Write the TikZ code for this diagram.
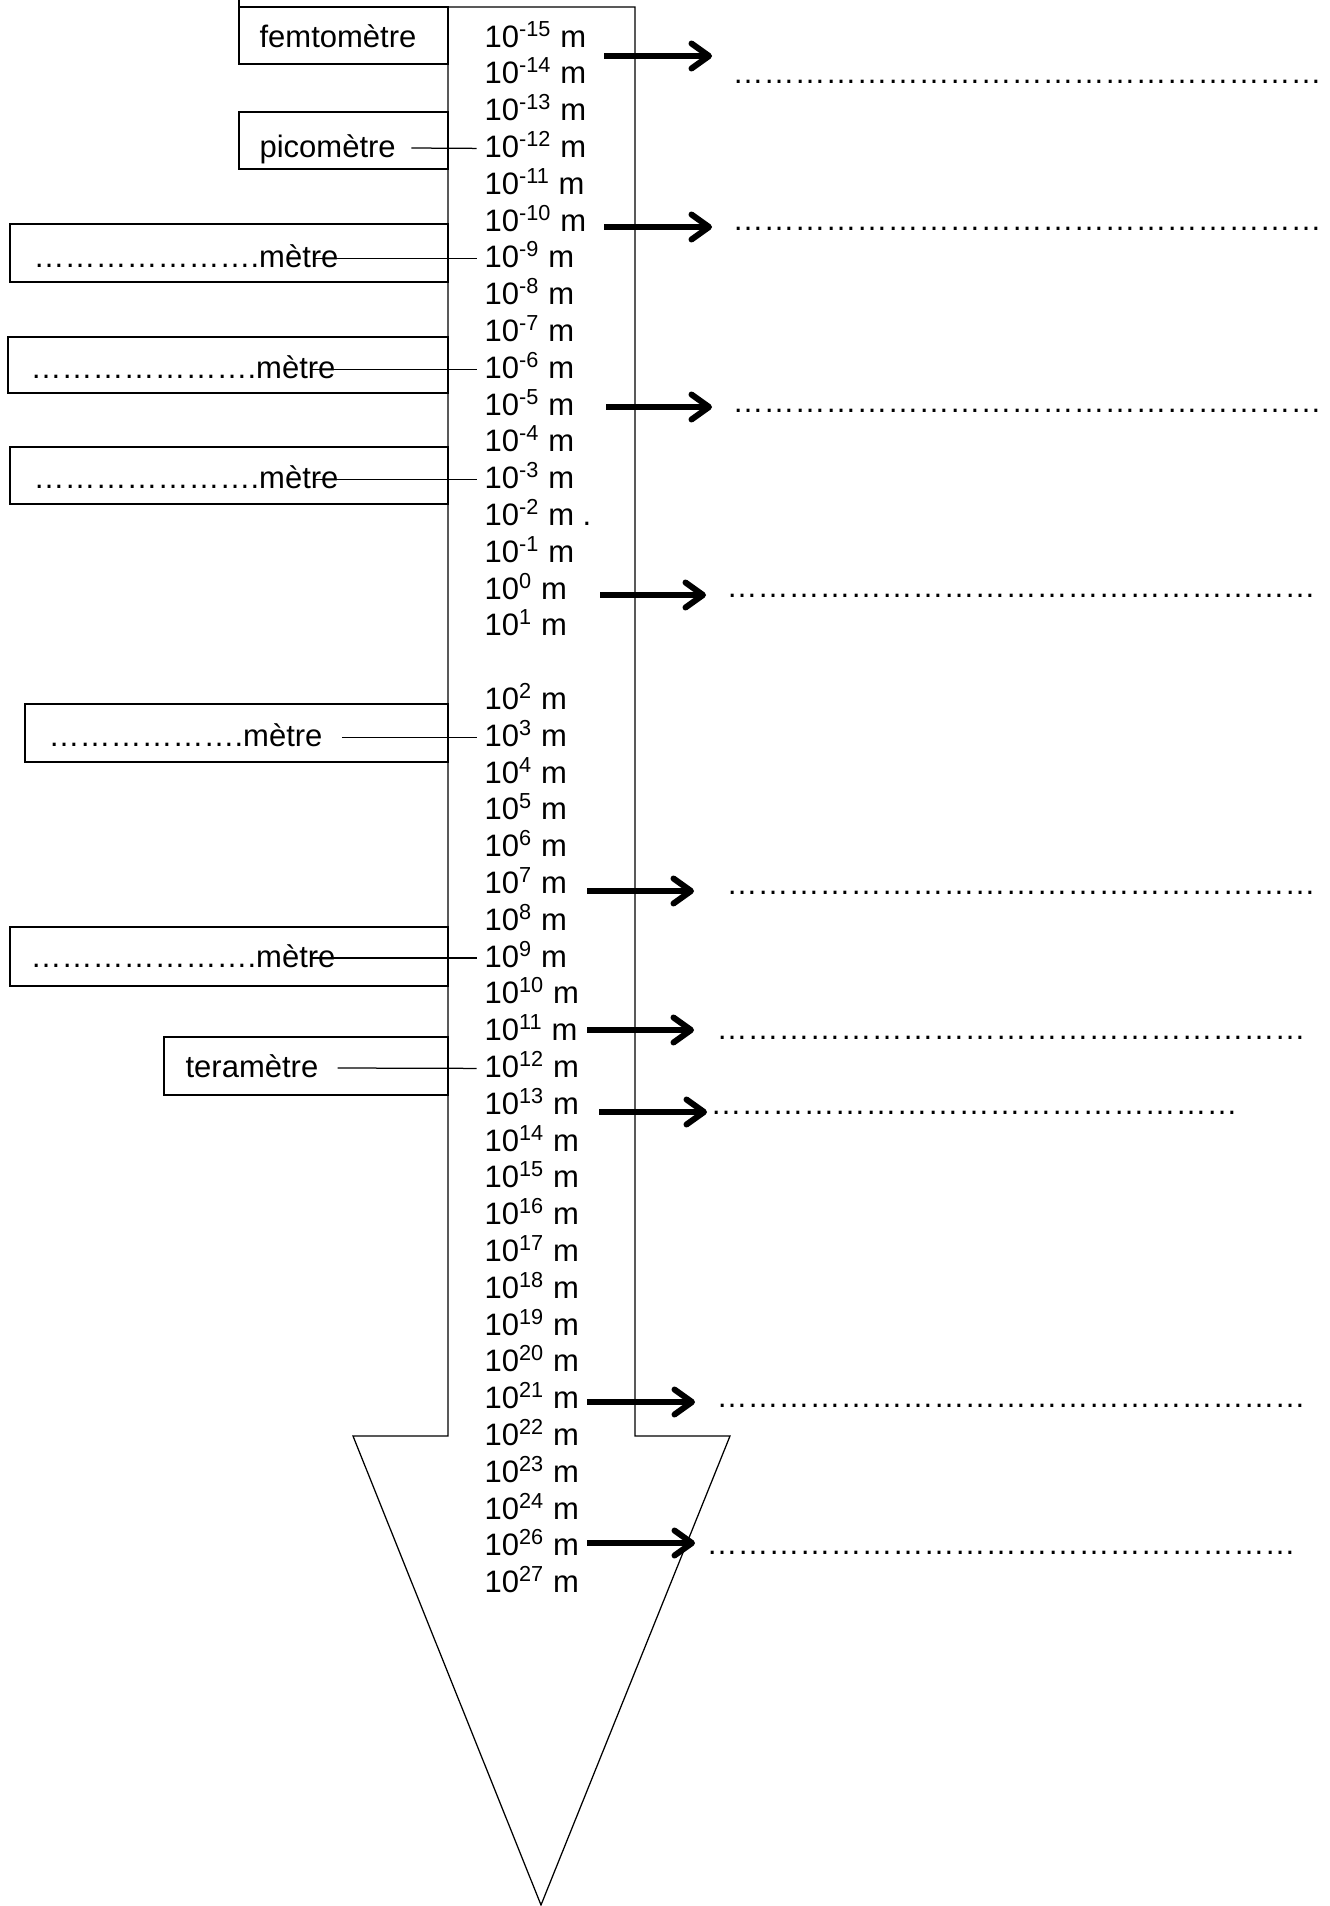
\documentclass[tikz,border=0pt]{standalone}
\usepackage{fontspec}
\setmainfont{Liberation Sans}
\usetikzlibrary{arrows.meta}
\newcommand{\pointilles}[1]{\foreach \k in {1,...,#1}{…}}

\begin{document}
\begin{tikzpicture}[x=0.4pt,y=-0.4pt,line width=0.5pt,
    font=\fontsize{12.4}{15}\selectfont,
    rangee/.style={anchor=base west,inner sep=0pt,text height=0.72em,text depth=0pt},
    fleche/.style={line width=2.4pt,-{Straight Barb[length=7pt,width=10pt,round]}}]
\useasboundingbox (0,0) rectangle (1329,1906);
\pgfmathsetmacro{\pas}{36.8} % interligne
\pgfmathsetmacro{\lb}{47} % ligne de base de 10^-15

% grande flèche
\draw (448,1436) -- (448,7) -- (635,7) -- (635,1436) -- (730,1436)
      -- (541,1905) -- (353,1436) -- cycle;
\draw (239,0) -- (239,7);

% puissances de dix
\foreach \e in {-15,...,1} {
  \pgfmathtruncatemacro{\i}{\e+15}
  \node[rangee] (r\i) at (484,{\lb+\i*\pas}) {10\textsuperscript{\e} m\ifnum\e=-2\ .\fi};
}
\foreach \e in {2,...,24} {
  \pgfmathtruncatemacro{\i}{\e+16}
  \node[rangee] (r\i) at (484,{\lb+\i*\pas}) {10\textsuperscript{\e} m};
}
\foreach \e/\i in {26/41,27/42}
  \node[rangee] (r\i) at (484,{\lb+\i*\pas}) {10\textsuperscript{\e} m};

% noms des sous-multiples
\draw (239,7) rectangle (448,64);
\node[rangee] (femto) at (259,47) {femtomètre};
\draw (239,112) rectangle (448,169);
\node[rangee] (pico) at (259,157) {picomètre};
\draw ([xshift=6pt]pico.east) -- ([xshift=-3pt]r3.west);
\draw (164,1037) rectangle (448,1095);
\node[rangee] (tera) at (185,1077) {teramètre};
\draw ([xshift=7.5pt]tera.east) -- ([xshift=-3pt]r28.west);

% cases à compléter
\foreach \g/\h/\b/\xt/\r/\nb/\dx [count=\n] in {10/224/282/33/6/7/-10pt,
    8/337/393/30/9/7/-10pt, 10/447/504/33/12/7/-10pt,
    25/704/762/48/19/6/7.5pt, 10/927/986/30/25/7/-10pt} {
  \draw (\g,\h) rectangle (448,\b);
  \node[rangee] (m\n) at (\xt,{\lb+\r*\pas}) {\pointilles{\nb}.mètre};
  \draw ([xshift=\dx]m\n.east) -- ([xshift=-3pt]r\r.west);
}

% flèches vers les pointillés
\foreach \y/\xa/\xb/\yd/\xd/\nb [count=\n] in {56/604/712/83/732/19,
    227/604/712/230/732/19, 407/606/712/412/732/19, 595/600/706/597/726/19,
    891/587/694/894/726/19, 1030/587/694/1039/716/19, 1112/599/707/1114/710/17,
    1402/587/695/1407/716/19, 1543/587/695/1554/706/19} {
  \node[anchor=base west,inner sep=0pt] (d\n) at (\xd,\yd) {\pointilles{\nb}};
  \draw[fleche] (\xa,\y) -- (\xb,\y);
}
\end{tikzpicture}
\end{document}
